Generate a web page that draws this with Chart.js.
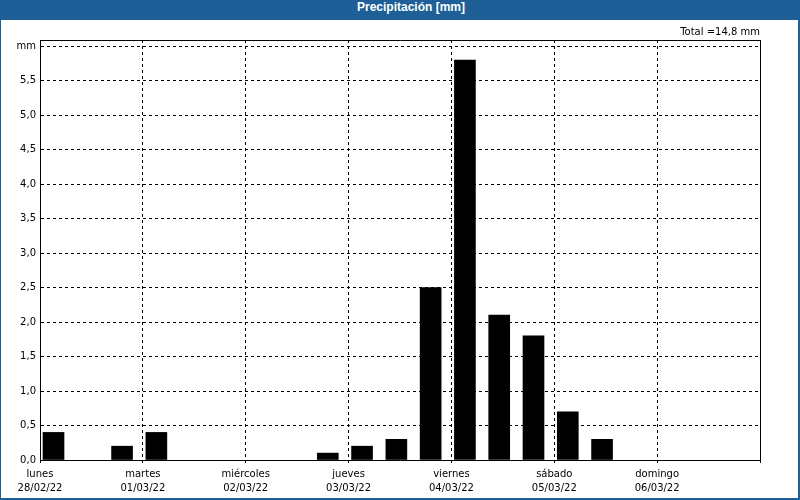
<!DOCTYPE html>
<html lang="es">
  <head>
    <meta charset="UTF-8" />
    <title>Precipitación</title>
    <style>
      * {
        margin: 0;
        padding: 0;
        box-sizing: border-box;
      }
      body {
        width: 800px;
        height: 500px;
        background: #ffffff;
        position: relative;
        overflow: hidden;
      }
      #myChart {
        position: absolute;
        left: 0;
        top: 0;
      }
      .titleBar {
        position: absolute;
        left: 0;
        top: 0;
        width: 800px;
        height: 20px;
        line-height: 21px;
        background: #1d5f96;
        color: #ffffff;
        font: bold 12px "Liberation Sans", sans-serif;
        text-align: center;
        padding-left: 22px;
        overflow: hidden;
      }
      .frame {
        position: absolute;
        left: 0;
        top: 0;
        width: 800px;
        height: 500px;
        border-left: 1px solid #1d5f96;
        border-right: 2px solid #1d5f96;
        border-bottom: 2px solid #1d5f96;
        pointer-events: none;
      }
    </style>
    <script src="https://cdn.jsdelivr.net/npm/chart.js@4"></script>
  </head>
  <body>
    <canvas id="myChart" width="800" height="500"></canvas>
    <div class="titleBar">Precipitación [mm]</div>
    <div class="frame"></div>

    <script>
      // days shown on the x axis
      const dayNames = ["lunes", "martes", "miércoles", "jueves", "viernes", "sábado", "domingo"];
      const dayDates = ["28/02/22", "01/03/22", "02/03/22", "03/03/22", "04/03/22", "05/03/22", "06/03/22"];
      // 8 hour periods, 3 per day (00h, 08h, 16h)
      const slotHours = 8;
      const precip = [
        0.4, 0, 0.2,
        0.4, 0, 0,
        0, 0, 0.1,
        0.2, 0.3, 2.5,
        5.8, 2.1, 1.8,
        0.7, 0.3, 0,
        0, 0, 0,
      ];
      const yTicks = [0, 0.5, 1, 1.5, 2, 2.5, 3, 3.5, 4, 4.5, 5, 5.5, 6];

      const fontFamily = "DejaVu Sans";
      const barShift = 3.15; // bar drawn a bit right of period start

      const total = precip.reduce((a, b) => a + b, 0);
      const fmt = (v) => v.toFixed(1).replace(".", ",");

      // no bar at all for dry periods
      const points = precip.map((v, i) => ({ x: i * slotHours + barShift, y: v > 0 ? v : null }));

      // solid frame round the plot area
      const framePlugin = {
        id: "frame",
        afterDraw(chart) {
          const { ctx, chartArea } = chart;
          ctx.save();
          ctx.strokeStyle = "#000000";
          ctx.lineWidth = 1;
          ctx.beginPath();
          ctx.moveTo(chartArea.left, chartArea.top + 0.5);
          ctx.lineTo(chartArea.right + 0.5, chartArea.top + 0.5);
          ctx.lineTo(chartArea.right + 0.5, chartArea.bottom);
          ctx.stroke();
          ctx.restore();
        },
      };

      const ctx = document.getElementById("myChart").getContext("2d");
      const myChart = new Chart(ctx, {
        type: "bar",
        data: {
          datasets: [
            {
              data: points,
              backgroundColor: "#000000",
              borderWidth: 0,
              barThickness: 21,
            },
          ],
        },
        options: {
          responsive: false,
          animation: false,
          layout: { padding: { top: 20, right: 40, left: 0, bottom: 0 } },
          plugins: {
            legend: { display: false },
            tooltip: { enabled: false },
            subtitle: {
              display: true,
              text: "Total =" + fmt(total) + " mm",
              align: "end",
              color: "#000000",
              font: { family: fontFamily, size: 10 },
              padding: { top: 6, bottom: 2 },
            },
          },
          scales: {
            x: {
              type: "linear",
              min: 0,
              max: dayNames.length * 24,
              offset: false,
              afterBuildTicks: (scale) => {
                scale.ticks = [];
                for (let d = 0; d <= dayNames.length; d++) scale.ticks.push({ value: d * 24 });
              },
              afterFit: (scale) => {
                scale.height = 40;
              },
              ticks: {
                autoSkip: false,
                maxRotation: 0,
                padding: 4,
                color: "#000000",
                font: { family: fontFamily, size: 10, lineHeight: 1.4 },
                callback: (value) => {
                  const d = Math.round(value / 24);
                  return d < dayNames.length ? [dayNames[d], dayDates[d]] : "";
                },
              },
              grid: { offset: false, color: "#000000", lineWidth: 1, tickLength: 3 },
              border: { color: "#000000", width: 1, dash: [3, 3] },
            },
            y: {
              min: 0,
              max: 6.09,
              afterBuildTicks: (scale) => {
                scale.ticks = yTicks.map((v) => ({ value: v }));
              },
              afterFit: (scale) => {
                scale.width = 40;
              },
              ticks: {
                padding: 4,
                color: "#000000",
                font: { family: fontFamily, size: 10 },
                callback: (value) => (value === 6 ? "mm" : fmt(value)),
              },
              grid: { color: "#000000", lineWidth: 1, drawTicks: false },
              border: { color: "#000000", width: 1, dash: [3, 3] },
            },
          },
        },
        plugins: [framePlugin],
      });
    </script>
  </body>
</html>
